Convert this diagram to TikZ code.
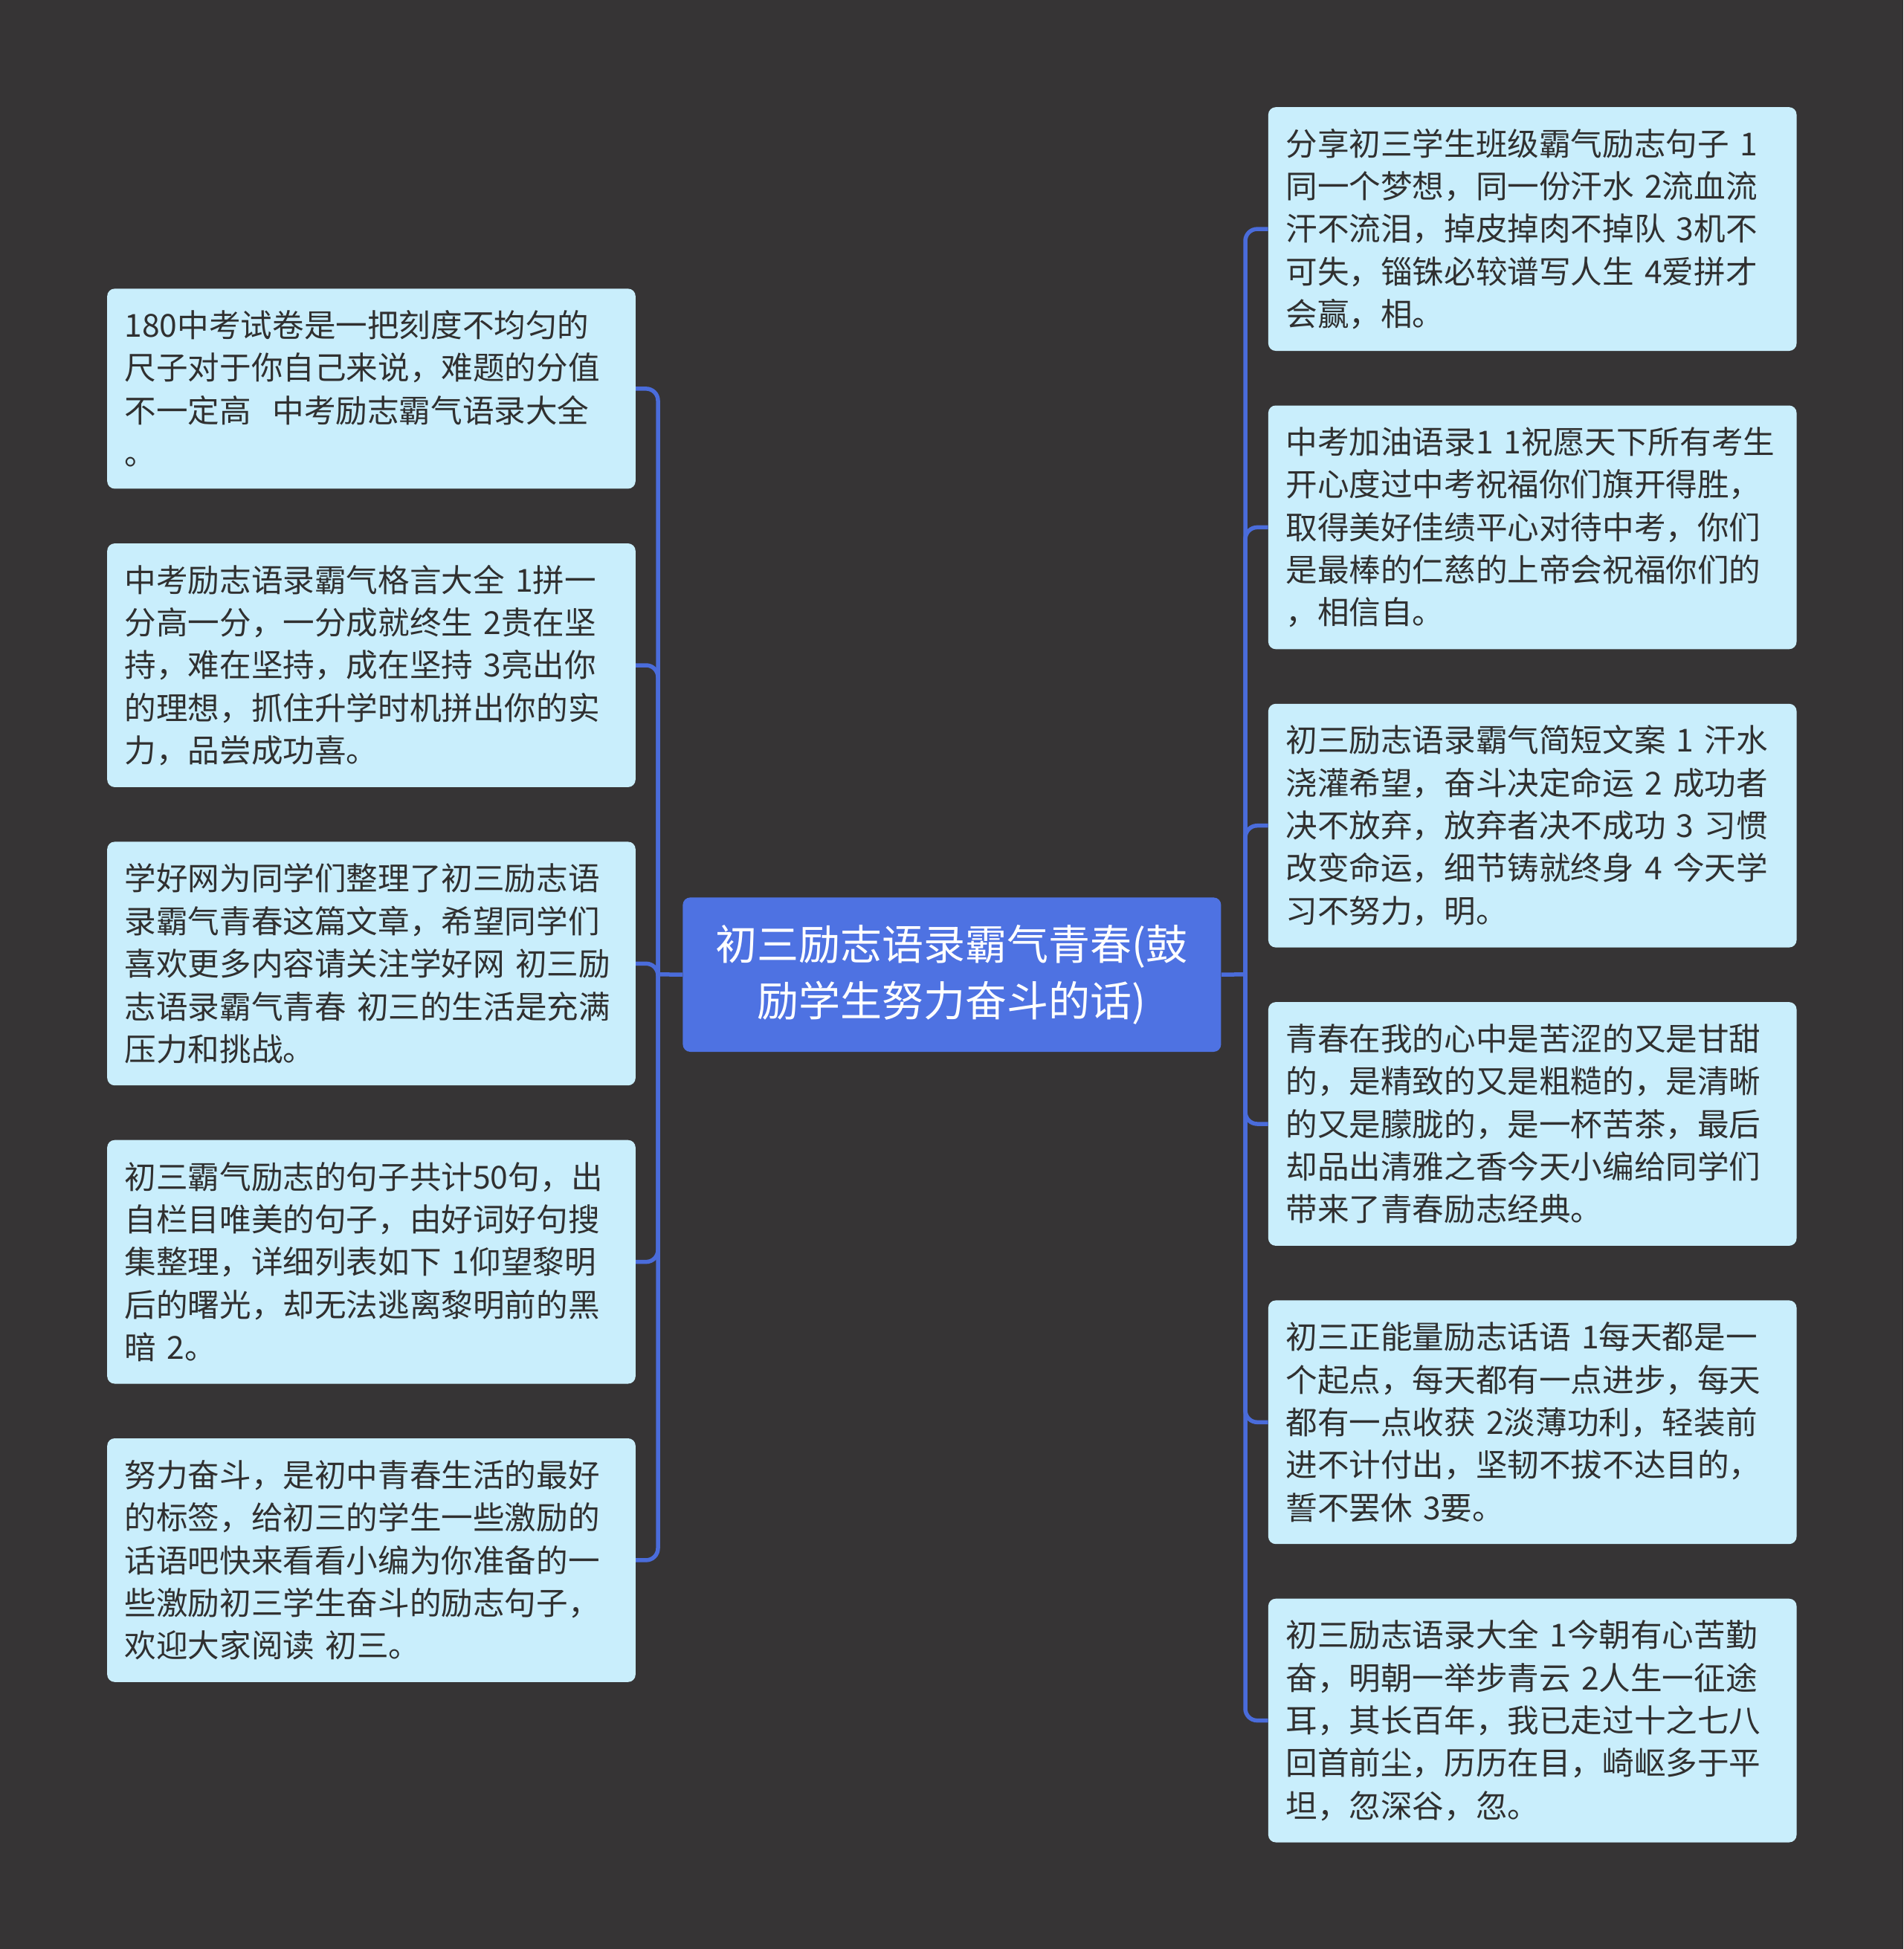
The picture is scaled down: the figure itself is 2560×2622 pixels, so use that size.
\documentclass[tikz,border=0pt]{standalone}
\usepackage{fontspec}
\newfontfamily\cjk{Noto Sans CJK SC}
\definecolor{bgc}{HTML}{363435}
\definecolor{leafc}{HTML}{C9EEFC}
\definecolor{centc}{HTML}{4E72E2}
\definecolor{linec}{HTML}{4A6CDB}
\definecolor{textc}{HTML}{303030}
\tikzset{
  leaf/.style={rectangle, rounded corners=5pt, fill=leafc, draw=none,
    anchor=north west, minimum width=355.3pt, text width=331.8pt,
    inner xsep=11.75pt, inner ysep=0pt, align=left, text=textc,
    font=\cjk\fontsize{21.3}{28.7}\selectfont},
  centre/.style={rectangle, rounded corners=5pt, fill=centc, draw=none,
    anchor=north west, minimum width=362pt, minimum height=103.8pt,
    inner sep=0pt, align=center, text=white,
    font=\cjk\fontsize{28}{38}\selectfont},
  conn/.style={draw=linec, line width=2.75pt},
  trunk/.style={conn, rounded corners=8pt}
}
\begin{document}
\begin{tikzpicture}[x=0.5pt,y=-0.5pt]
\fill[bgc] (0,0) rectangle (2560,2622);
\useasboundingbox (0,0) rectangle (2560,2622);

\node[centre] (c) at (918,1207) {初三励志语录霸气青春(鼓\\励学生努力奋斗的话)};

% left
\node[leaf, minimum height=134.5pt] (L1) at (143.8,388) {180中考试卷是一把刻度不均匀的\\尺子对于你自己来说，难题的分值\\不一定高~~中考励志霸气语录大全\\。};
\node[leaf, minimum height=163.9pt] (L2) at (143.8,730.7) {中考励志语录霸气格言大全~1拼一\\分高一分，一分成就终生~2贵在坚\\持，难在坚持，成在坚持~3亮出你\\的理想，抓住升学时机拼出你的实\\力，品尝成功喜。};
\node[leaf, minimum height=163.9pt] (L3) at (143.8,1132) {学好网为同学们整理了初三励志语\\录霸气青春这篇文章，希望同学们\\喜欢更多内容请关注学好网~初三励\\志语录霸气青春~初三的生活是充满\\压力和挑战。};
\node[leaf, minimum height=163.9pt] (L4) at (143.8,1533.3) {初三霸气励志的句子共计50句，出\\自栏目唯美的句子，由好词好句搜\\集整理，详细列表如下~1仰望黎明\\后的曙光，却无法逃离黎明前的黑\\暗~2。};
\node[leaf, minimum height=163.9pt] (L5) at (143.8,1934.6) {努力奋斗，是初中青春生活的最好\\的标签，给初三的学生一些激励的\\话语吧快来看看小编为你准备的一\\些激励初三学生奋斗的励志句子，\\欢迎大家阅读~初三。};

% right
\node[leaf, minimum height=163.9pt] (R1) at (1705.5,143.8) {分享初三学生班级霸气励志句子~1\\同一个梦想，同一份汗水~2流血流\\汗不流泪，掉皮掉肉不掉队~3机不\\可失，锱铢必较谱写人生~4爱拼才\\会赢，相。};
\node[leaf, minimum height=163.9pt] (R2) at (1705.5,545.1) {中考加油语录1~1祝愿天下所有考生\\开心度过中考祝福你们旗开得胜，\\取得美好佳绩平心对待中考，你们\\是最棒的仁慈的上帝会祝福你们的\\，相信自。};
\node[leaf, minimum height=163.9pt] (R3) at (1705.5,946.4) {初三励志语录霸气简短文案~1~汗水\\浇灌希望，奋斗决定命运~2~成功者\\决不放弃，放弃者决不成功~3~习惯\\改变命运，细节铸就终身~4~今天学\\习不努力，明。};
\node[leaf, minimum height=163.9pt] (R4) at (1705.5,1347.7) {青春在我的心中是苦涩的又是甘甜\\的，是精致的又是粗糙的，是清晰\\的又是朦胧的，是一杯苦茶，最后\\却品出清雅之香今天小编给同学们\\带来了青春励志经典。};
\node[leaf, minimum height=163.9pt] (R5) at (1705.5,1749) {初三正能量励志话语~1每天都是一\\个起点，每天都有一点进步，每天\\都有一点收获~2淡薄功利，轻装前\\进不计付出，坚韧不拔不达目的，\\誓不罢休~3要。};
\node[leaf, minimum height=163.9pt] (R6) at (1705.5,2150.3) {初三励志语录大全~1今朝有心苦勤\\奋，明朝一举步青云~2人生一征途\\耳，其长百年，我已走过十之七八\\回首前尘，历历在目，崎岖多于平\\坦，忽深谷，忽。};

% connectors
\coordinate (lj) at (885,1310.8);
\coordinate (rj) at (1675,1310.8);
\draw[conn] (c.west) -- (lj);
\draw[conn] (c.east) -- (rj);
\foreach \n in {L1,L2,L3,L4,L5} \draw[trunk] (lj) |- (\n.east);
\foreach \n in {R1,R2,R3,R4,R5,R6} \draw[trunk] (rj) |- (\n.west);
\end{tikzpicture}
\end{document}
